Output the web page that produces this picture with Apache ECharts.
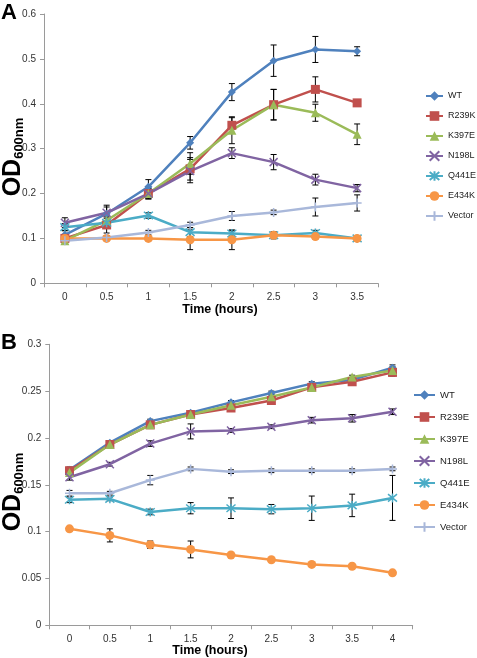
<!DOCTYPE html>
<html>
<head>
<meta charset="utf-8">
<script src="https://cdn.jsdelivr.net/npm/echarts@6/dist/echarts.min.js"></script>
<style>html,body{margin:0;padding:0;background:#fff;}#c{width:477px;height:658px;}</style>
</head>
<body>
<div id="c"></div>
<script>
// ---------- Panel A data ----------
var catsA = ['0','0.5','1','1.5','2','2.5','3','3.5'];
var namesA = ['WT','R239K','K397E','N198L','Q441E','E434K','Vector'];
var wtA     = [0.108,0.155,0.215,0.313,0.426,0.496,0.521,0.517];
var r239kA  = [0.100,0.130,0.200,0.255,0.352,0.398,0.432,0.402];
var k397eA  = [0.095,0.140,0.200,0.267,0.341,0.398,0.380,0.332];
var n198lA  = [0.135,0.157,0.200,0.250,0.290,0.270,0.231,0.212];
var q441eA  = [0.125,0.135,0.151,0.114,0.111,0.107,0.112,0.100];
var e434kA  = [0.100,0.100,0.100,0.097,0.097,0.107,0.104,0.100];
var vectorA = [0.095,0.102,0.113,0.130,0.150,0.158,0.170,0.179];
// ± error
var wtAErr     = [0.010,0.015,0.016,0.014,0.019,0.035,0.029,0.010];
var r239kAErr  = [0.008,0.018,0.012,0.025,0.017,0.034,0.028,0.004];
var k397eAErr  = [0.006,0.012,0.012,0.024,0.030,0.034,0.019,0.023];
var n198lAErr  = [0.011,0.017,0.010,0.026,0.012,0.017,0.012,0.008];
var q441eAErr  = [0.008,0.010,0.006,0.010,0.006,0.005,0.006,0.004];
var e434kAErr  = [0.006,0.005,0.005,0.022,0.022,0.008,0.005,0.004];
var vectorAErr = [0.004,0.004,0.005,0.006,0.010,0.005,0.020,0.018];

// ---------- Panel B data ----------
var catsB = ['0','0.5','1','1.5','2','2.5','3','3.5','4'];
var namesB = ['WT','R239E','K397E','N198L','Q441E','E434K','Vector'];
var wtB     = [0.166,0.195,0.218,0.227,0.238,0.248,0.258,0.262,0.275];
var r239eB  = [0.165,0.193,0.214,0.225,0.232,0.240,0.254,0.260,0.270];
var k397eB  = [0.163,0.193,0.214,0.225,0.235,0.244,0.254,0.265,0.272];
var n198lB  = [0.158,0.172,0.194,0.207,0.208,0.212,0.219,0.221,0.228];
var q441eB  = [0.134,0.135,0.121,0.125,0.125,0.124,0.125,0.128,0.136];
var e434kB  = [0.103,0.096,0.086,0.081,0.075,0.070,0.065,0.063,0.056];
var vectorB = [0.141,0.141,0.155,0.167,0.164,0.165,0.165,0.165,0.167];
var wtBErr     = [0.003,0.002,0.002,0.002,0.002,0.002,0.002,0.002,0.003];
var r239eBErr  = [0.003,0.002,0.002,0.002,0.002,0.002,0.002,0.002,0.004];
var k397eBErr  = [0.003,0.002,0.002,0.002,0.002,0.002,0.002,0.002,0.004];
var n198lBErr  = [0.003,0.002,0.003,0.008,0.002,0.002,0.003,0.004,0.003];
var q441eBErr  = [0.003,0.002,0.003,0.006,0.011,0.005,0.013,0.012,0.024];
var e434kBErr  = [0.002,0.007,0.004,0.009,0.002,0.002,0.002,0.002,0.002];
var vectorBErr = [0.003,0.002,0.005,0.002,0.002,0.002,0.002,0.002,0.002];

var colors = ['#4F81BD','#C0504D','#9BBB59','#8064A2','#4BACC6','#F79646','#A9B8DA'];
var symX = 'path://M0,0L10,10M10,0L0,10';
var symAst = 'path://M0,0L10,10M10,0L0,10M5,-1L5,11';
var symPlus = 'path://M5,0L5,10M0,5L10,5';
var symbols = ['diamond','rect','triangle',symX,symAst,'circle',symPlus];
var symSizes = [8,9,9,8,9,9,9];

var dataA = [wtA,r239kA,k397eA,n198lA,q441eA,e434kA,vectorA];
var errA = [wtAErr,r239kAErr,k397eAErr,n198lAErr,q441eAErr,e434kAErr,vectorAErr];
var dataB = [wtB,r239eB,k397eB,n198lB,q441eB,e434kB,vectorB];
var errB = [wtBErr,r239eBErr,k397eBErr,n198lBErr,q441eBErr,e434kBErr,vectorBErr];

var tickFont = 'Liberation Sans';
function errRender(params, api) {
  var x = api.value(0), lo = api.value(1), hi = api.value(2);
  var p1 = api.coord([x, hi]), p2 = api.coord([x, lo]);
  var w = 3;
  var st = {stroke:'#000', lineWidth:1};
  return {type:'group', children:[
    {type:'line', shape:{x1:p1[0],y1:p1[1],x2:p2[0],y2:p2[1]}, style:st},
    {type:'line', shape:{x1:p1[0]-w,y1:p1[1],x2:p1[0]+w,y2:p1[1]}, style:st},
    {type:'line', shape:{x1:p2[0]-w,y1:p2[1],x2:p2[0]+w,y2:p2[1]}, style:st}
  ]};
}

var series = [];
function addPanel(names, data, err, idx) {
  for (var i = 0; i < names.length; i++) {
    var ed = data[i].map(function(v, k){ return [k, v - err[i][k], v + err[i][k]]; });
    series.push({type:'custom', name:'err'+idx+'_'+i, xAxisIndex:idx, yAxisIndex:idx,
      renderItem: errRender, data: ed, encode:{x:0, y:[1,2]}, z:1, silent:true});
  }
  for (var i = 0; i < names.length; i++) {
    var isPath = symbols[i].indexOf('path://') === 0;
    series.push({type:'line', name:names[i], xAxisIndex:idx, yAxisIndex:idx,
      data: data[i], symbol: symbols[i], symbolSize: symSizes[i], showAllSymbol:true,
      lineStyle:{color:colors[i], width:2.5},
      itemStyle: isPath ? {color:colors[i], borderColor:colors[i], borderWidth:1.5}
                        : {color:colors[i], borderColor:colors[i], borderWidth:0},
      z:2, animation:false});
  }
}
addPanel(namesA, dataA, errA, 0);
addPanel(namesB, dataB, errB, 1);

function xAx(cats, gi) {
  return {type:'category', gridIndex:gi, data:cats, boundaryGap:true,
    axisLine:{lineStyle:{color:'#9a9a9a', width:1}},
    axisTick:{show:true, length:4, interval:0, lineStyle:{color:'#9a9a9a'}},
    axisLabel:{color:'#333', fontSize:10, fontFamily:tickFont, margin:9, interval:0},
    splitLine:{show:false}};
}
function yAx(max, step, gi) {
  return {type:'value', gridIndex:gi, min:0, max:max, interval:step,
    axisLine:{show:true, lineStyle:{color:'#9a9a9a', width:1}},
    axisTick:{show:true, length:4, lineStyle:{color:'#9a9a9a'}},
    axisLabel:{color:'#333', fontSize:10, fontFamily:tickFont, margin:8},
    splitLine:{show:false}};
}

var odRich = {
  a:{fontSize:25, fontWeight:'bold', fontFamily:'Liberation Sans', color:'#000'},
  b:{fontSize:13, fontWeight:'bold', fontFamily:'Liberation Sans', color:'#000', verticalAlign:'bottom', padding:[8,0,0,0]}
};

var chart = echarts.init(document.getElementById('c'), null, {renderer:'canvas'});
chart.setOption({
  animation:false,
  backgroundColor:'#fff',
  grid:[
    {left:44, top:14, width:334, height:269.3},
    {left:49.3, top:344.3, width:363.4, height:281}
  ],
  xAxis:[xAx(catsA,0), xAx(catsB,1)],
  yAxis:[yAx(0.6,0.1,0), yAx(0.3,0.05,1)],
  legend:[
    {data:namesA, orient:'vertical', left:425, top:90, itemWidth:17, itemHeight:12, itemGap:8,
     textStyle:{fontSize:9, fontFamily:tickFont, color:'#222', lineHeight:12}, selectedMode:false, padding:0},
    {data:namesB, orient:'vertical', left:413, top:389, itemWidth:21, itemHeight:12, itemGap:10,
     textStyle:{fontSize:9.5, fontFamily:tickFont, color:'#222', lineHeight:12}, selectedMode:false, padding:0}
  ],
  graphic:[
    {type:'text', left:1, top:2, style:{text:'A', font:'bold 22px "Liberation Sans"', fill:'#000'}},
    {type:'text', left:1, top:332, style:{text:'B', font:'bold 22px "Liberation Sans"', fill:'#000'}},
    {type:'text', x:13, y:157, rotation:Math.PI/2,
     style:{text:'{a|OD}{b|600nm}', rich:odRich, align:'center', verticalAlign:'middle'}},
    {type:'text', x:13, y:492, rotation:Math.PI/2,
     style:{text:'{a|OD}{b|600nm}', rich:odRich, align:'center', verticalAlign:'middle'}},
    {type:'text', x:220, y:310, style:{text:'Time (hours)', font:'bold 12.5px "Liberation Sans"', fill:'#000', align:'center', verticalAlign:'middle'}},
    {type:'text', x:210, y:651, style:{text:'Time (hours)', font:'bold 12.5px "Liberation Sans"', fill:'#000', align:'center', verticalAlign:'middle'}}
  ],
  series: series
});
</script>
</body>
</html>
